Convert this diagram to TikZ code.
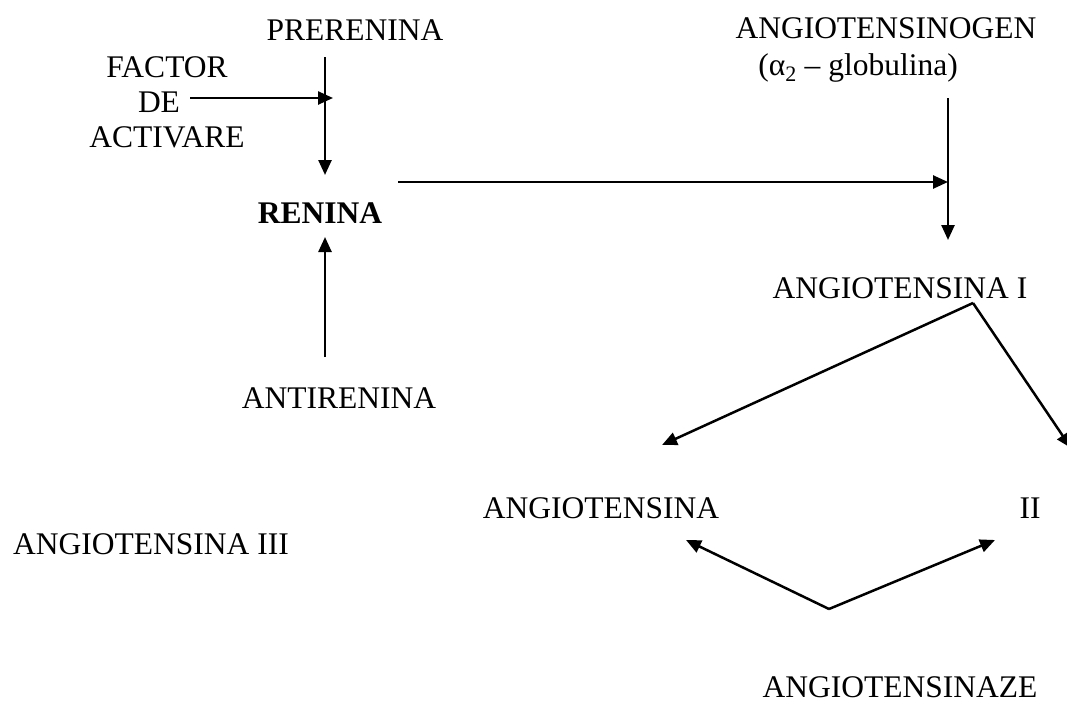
\documentclass[tikz,border=0pt]{standalone}
\usepackage{fontspec}
\setmainfont{Liberation Serif}
\usetikzlibrary{arrows.meta}
\begin{document}
\begin{tikzpicture}[x=1pt, y=-1pt, line join=round, >={Triangle[length=15pt,width=13pt]},
    lbl/.style={anchor=base, inner sep=0pt, font=\fontsize{31.5}{35}\selectfont},
    arr/.style={->, line width=2.5pt}]
    \useasboundingbox (0,0) rectangle (1067,704);

    % Texts
    \node[lbl] (prerenina) at (355,40) {PRERENINA};
    \node[lbl, align=center] (factor) at (167,147) {FACTOR\\DE\kern16pt\\ACTIVARE};
    \node[lbl, font=\fontsize{31.5}{35}\selectfont\bfseries] (renina) at (320,223) {RENINA};
    \node[lbl] (antirenina) at (339,408) {ANTIRENINA};
    \node[lbl] (angiogen) at (886,38) {ANGIOTENSINOGEN};
    \node[lbl] (globulina) at (858,75) {(α\textsubscript{2} – globulina)};
    \node[lbl] (angioI) at (900,298) {ANGIOTENSINA I};
    \node[lbl] (angioII) at (601,518) {ANGIOTENSINA};
    \node[lbl] (numII) at (1030,518) {II};
    \node[lbl] (angioIII) at (151,554) {ANGIOTENSINA III};
    \node[lbl] (angiotensinaze) at (900,697) {ANGIOTENSINAZE};

    % Points where the arrows start and end
    \coordinate (pretop) at (325,57);
    \coordinate (prebot) at (325,175);
    \coordinate (facstart) at (190,98);
    \coordinate (facend) at (333,98);
    \coordinate (antitop) at (325,237);
    \coordinate (antibot) at (325,357);
    \coordinate (renstart) at (398,182);
    \coordinate (renend) at (948,182);
    \coordinate (gentop) at (948,98);
    \coordinate (genbot) at (948,240);
    \coordinate (Iapex) at (973,303);
    \coordinate (Ileft) at (662,445);
    \coordinate (Iright) at (1071,448);
    \coordinate (zeapex) at (829,609);
    \coordinate (zeleft) at (686,540);
    \coordinate (zeright) at (995,540);

    % Arrows
    \draw[arr] (pretop) -- (prebot);
    \draw[arr] (facstart) -- (facend);
    \draw[arr] (antibot) -- (antitop);
    \draw[arr] (renstart) -- (renend);
    \draw[arr] (gentop) -- (genbot);
    \draw[arr] (Iapex) -- (Ileft);
    \draw[arr] (Iapex) -- (Iright);
    \draw[arr] (zeapex) -- (zeleft);
    \draw[arr] (zeapex) -- (zeright);
\end{tikzpicture}
\end{document}
